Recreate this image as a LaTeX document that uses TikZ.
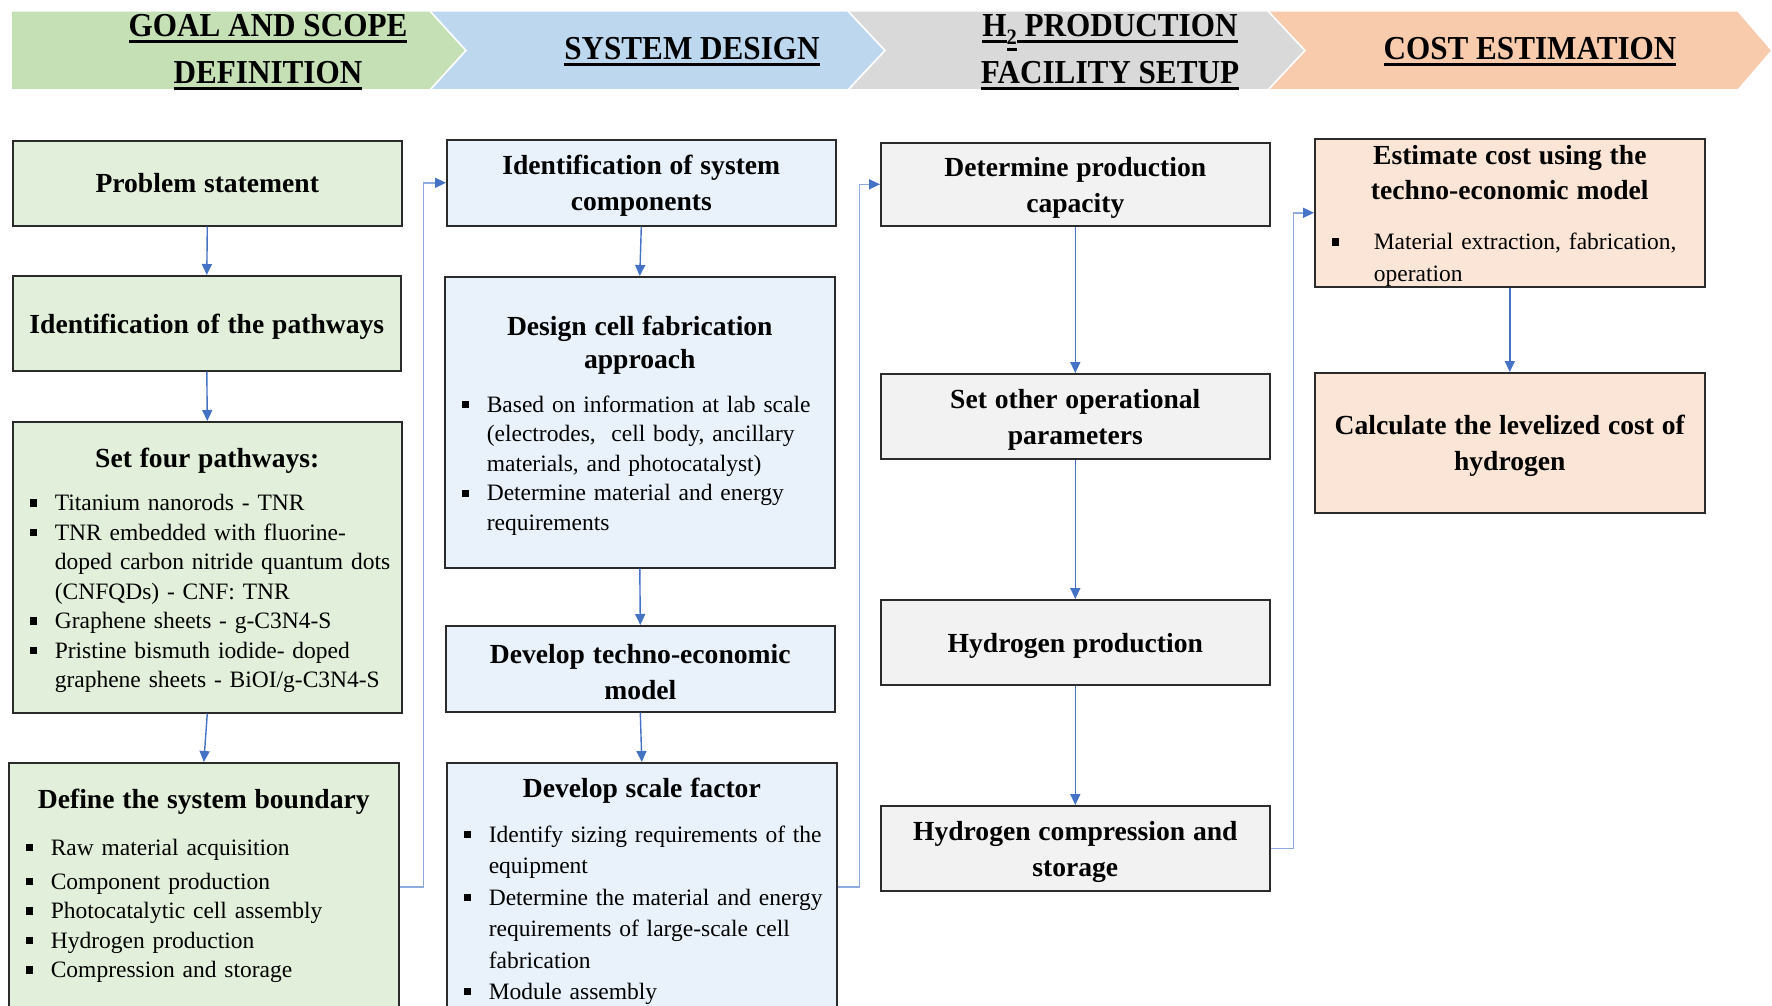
\documentclass[tikz,border=0pt]{standalone}
\usepackage{fontspec}
\setmainfont{Liberation Serif}
\newfontfamily\headfont[FakeStretch=0.93]{Liberation Serif}
\usetikzlibrary{arrows.meta}

% banner and box colours
\definecolor{hdgreen}{HTML}{C5E0B4}
\definecolor{hdblue}{HTML}{BDD7EE}
\definecolor{hdgray}{HTML}{D9D9D9}
\definecolor{hdorange}{HTML}{F8CBAD}
\definecolor{bxgreen}{HTML}{E2EFDA}
\definecolor{bxblue}{HTML}{E9F1FA}
\definecolor{bxgray}{HTML}{F2F2F2}
\definecolor{bxorange}{HTML}{FBE5D6}
\definecolor{bxline}{HTML}{2B2B2B}
\definecolor{flow}{HTML}{4472C4}
\definecolor{flowlight}{HTML}{8FAADC}

% thick underline for the banner headings
\newcommand\hul[1]{\setbox0=\hbox{#1}\rlap{\rule[-6pt]{\wd0}{2.6pt}}\box0}
% bold centred heading inside a box (first line carries extra head room)
\newcommand\boxtitle[2][36pt]{{\centering\bfseries\fontsize{27.6}{#1}\selectfont\rule{0pt}{26pt}#2\par}}
% square-bulleted item with a hanging indent
\newcommand\bitem[2][34pt]{\par\hangindent=#1\hangafter=1\noindent\makebox[#1][l]{\hspace{9pt}\raisebox{4pt}{\rule{7.3pt}{7.3pt}}}#2\par}

\begin{document}
\begin{tikzpicture}[x=1pt, y=-1pt,
  every node/.style={inner sep=0pt},
  head/.style={font=\headfont\bfseries\fontsize{33.5}{48}\selectfont, anchor=base},
  box/.style={draw=bxline, line width=1.6pt, rectangle, anchor=north west,
    inner xsep=8pt, inner ysep=0pt, align=left,
    font=\fontsize{23.5}{29.5}\selectfont},
  boxtext/.style={align=left, font=\fontsize{23.5}{29.5}\selectfont},
  chev/.style={draw=white, line width=1.5pt},
  flowarrow/.style={draw=flow, line width=1.4pt, -{Triangle[length=11pt,width=10pt]}},
  elbow/.style={draw=flowlight, line width=1.4pt, -{Triangle[length=11pt,width=10pt,color=flow]}}
]
\useasboundingbox (0,0) rectangle (1772,1006);
\fill[white] (0,0) rectangle (1772,1006);
\clip (0,0) rectangle (1772,1006);

% ---- phase banner ----
\fill[hdgreen, chev] (11,11) -- (430,11) -- (466,50.5) -- (430,90) -- (11,90) -- cycle;
\fill[hdblue, chev] (430,11) -- (848,11) -- (885,50.5) -- (848,90) -- (430,90) -- (466,50.5) -- cycle;
\fill[hdgray, chev] (848,11) -- (1268,11) -- (1305,50.5) -- (1268,90) -- (848,90) -- (885,50.5) -- cycle;
\fill[hdorange, chev] (1268,11) -- (1738,11) -- (1772,50.5) -- (1738,90) -- (1268,90) -- (1305,50.5) -- cycle;

\node[head] (hgoal) at (268,37) {\hul{GOAL AND SCOPE}};
\node[head] (hdef) at (268,84) {\hul{DEFINITION}};
\node[head] (hsys) at (692,60) {\hul{SYSTEM DESIGN}};
\node[head] (hprod) at (1110,37) {\hul{H}\raisebox{-8pt}{\hul{\fontsize{22}{22}\selectfont 2}}\hul{ PRODUCTION}};
\node[head] (hfac) at (1110,84) {\hul{FACILITY SETUP}};
\node[head] (hcost) at (1530,60) {\hul{COST ESTIMATION}};

% ---- goal and scope definition ----
\node[box, fill=bxgreen, text width=373pt, minimum height=85pt] (ps) at (12,140)
  {{\centering\bfseries\fontsize{27.6}{36}\selectfont Problem statement\par}};
\node[box, fill=bxgreen, text width=372pt, minimum height=95pt] (ip) at (12,275)
  {\boxtitle{Identification of the pathways}};
\node[box, fill=bxgreen, text width=373pt, minimum height=291pt] (sf) at (12,421)
  {\boxtitle{Set four pathways:}\vspace{13.5pt}
   \bitem{Titanium nanorods - TNR}
   \bitem{TNR embedded with fluorine-\newline doped carbon nitride quantum dots\newline (CNFQDs) - CNF: TNR}
   \bitem{Graphene sheets - g-C3N4-S}
   \bitem{Pristine bismuth iodide- doped\newline graphene sheets - BiOI/g-C3N4-S}};
\node[box, fill=bxgreen, minimum width=390pt, minimum height=248pt] (db) at (8,762) {};
\node[boxtext, text width=374pt, anchor=north] (dbt) at ([yshift=-20pt]db.north)
  {\boxtitle{Define the system boundary}\vspace{17.5pt}
   \bitem{Raw material acquisition}\vspace{4.5pt}
   \bitem{Component production}
   \bitem{Photocatalytic cell assembly}
   \bitem{Hydrogen production}
   \bitem{Compression and storage}};

% ---- system design ----
\node[box, fill=bxblue, text width=373pt, minimum height=86pt] (isc) at (446,139)
  {\boxtitle{Identification of system\\components}};
\node[box, fill=bxblue, text width=374pt, minimum height=291pt] (dcf) at (444,276)
  {\boxtitle[33pt]{Design cell fabrication\\approach}\vspace{14.5pt}
   \bitem{Based on information at lab scale\newline (electrodes,\ \ cell body, ancillary\newline materials, and photocatalyst)}
   \bitem{Determine material and energy\newline requirements}};
\node[box, fill=bxblue, text width=373pt, minimum height=86pt] (dtm) at (445,625)
  {\boxtitle{Develop techno-economic\\model}};
\node[box, fill=bxblue, minimum width=390pt, minimum height=248pt] (dsf) at (446,762) {};
\node[boxtext, text width=374pt, anchor=north, font=\fontsize{23.5}{31.4}\selectfont] (dsft)
  at ([yshift=-9pt]dsf.north)
  {\boxtitle{Develop scale factor}\vspace{13.8pt}
   \bitem{Identify sizing requirements of the\newline equipment}
   \bitem{Determine the material and energy\newline requirements of large-scale cell\newline fabrication}
   \bitem{Module assembly}};

% ---- H2 production facility setup ----
\node[box, fill=bxgray, text width=373pt, minimum height=83pt] (dpc) at (880,142)
  {\boxtitle{Determine production\\capacity}};
\node[box, fill=bxgray, text width=373pt, minimum height=85pt] (sop) at (880,373)
  {\boxtitle{Set other operational\\parameters}};
\node[box, fill=bxgray, text width=373pt, minimum height=85pt] (hp) at (880,599)
  {\boxtitle{Hydrogen production}};
\node[box, fill=bxgray, text width=373pt, minimum height=85pt] (hcs) at (880,805)
  {\boxtitle{Hydrogen compression and\\storage}};

% ---- cost estimation ----
\node[box, fill=bxorange, text width=374pt, minimum height=148pt,
      font=\fontsize{23.5}{32}\selectfont] (ec) at (1314,138)
  {\boxtitle[35pt]{Estimate cost using the\\techno-economic model}\vspace{18pt}
   \bitem[51pt]{Material extraction, fabrication,\newline operation}};
\node[box, fill=bxorange, text width=374pt, minimum height=140pt] (cl) at (1314,372)
  {\boxtitle{Calculate the levelized cost of\\hydrogen}};

% ---- flow within each phase ----
\draw[flowarrow] (ps.south) -- (ip.north);
\draw[flowarrow] (ip.south) -- (sf.north);
\draw[flowarrow] (sf.south) -- (db.north);
\draw[flowarrow] (isc.south) -- (dcf.north);
\draw[flowarrow] (dcf.south) -- (dtm.north);
\draw[flowarrow] (dtm.south) -- (dsf.north);
\draw[flowarrow] (dpc.south) -- (sop.north);
\draw[flowarrow] (sop.south) -- (hp.north);
\draw[flowarrow] (hp.south) -- (hcs.north);
\draw[flowarrow] (ec.south) -- (cl.north);

% ---- hand-over between phases ----
\draw[elbow] (db.east) -- ++(24,0) |- (isc.west);
\draw[elbow] (dsf.east) -- ++(22,0) |- (dpc.west);
\draw[elbow] (hcs.east) -- ++(23,0) |- (ec.west);
\end{tikzpicture}
\end{document}
